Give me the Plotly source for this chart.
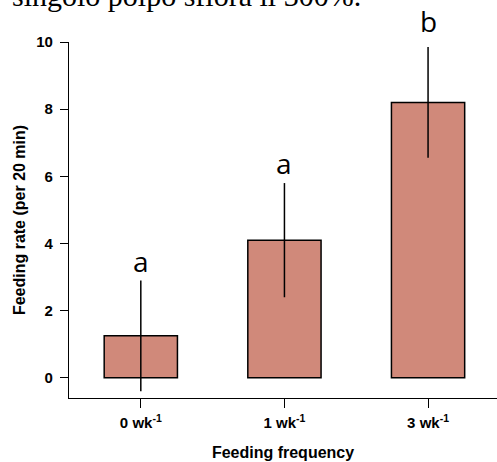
import plotly.graph_objects as go

categories = ["0 wk<sup>-1</sup>", "1 wk<sup>-1</sup>", "3 wk<sup>-1</sup>"]
feeding_rate = [1.25, 4.1, 8.2]
error_sd = [1.65, 1.7, 1.65]
sig_letters = ["a", "a", "b"]
letter_y = [2.86, 5.76, 10.0]
y_ticks = [0, 2, 4, 6, 8, 10]
caption = "singolo polpo sfiora il 300%."

Y_MIN, Y_MAX = -0.6, 10
x_pos = list(range(len(categories)))

fig = go.Figure()
fig.add_trace(go.Bar(
    x=x_pos, y=feeding_rate, width=0.51,
    marker=dict(color="#D0897A", line=dict(color="black", width=1.5)),
    error_y=dict(type="data", array=error_sd, visible=True, color="black", thickness=1.5, width=0),
))

for xi, yi, t in zip(x_pos, letter_y, sig_letters):
    fig.add_annotation(x=xi, y=(yi - Y_MIN) / (Y_MAX - Y_MIN), text=t, showarrow=False,
                       xref="x", yref="paper", yanchor="bottom",
                       font=dict(family="Open Sans, Lato, sans-serif", size=28, color="black"))

# cropped caption line of the source page at the very top
fig.add_annotation(
    x=(10 - 69) / 428, y=(398 - 14) / 356, xref="paper", yref="paper",
    xanchor="left", yanchor="bottom", showarrow=False, text=caption,
    font=dict(family="Liberation Serif, Times New Roman, serif", size=30, color="black"),
)

fig.update_layout(
    width=497, height=462,
    margin=dict(l=69, r=0, t=42, b=64, autoexpand=False),
    plot_bgcolor="white", paper_bgcolor="white",
    showlegend=False,
    font=dict(family="Liberation Sans, Arial, sans-serif", color="black"),
    xaxis=dict(
        tickmode="array", tickvals=x_pos, ticktext=categories,
        range=[-0.5, 2.48], showline=True, linecolor="black", linewidth=1.3,
        ticks="outside", ticklen=9, tickwidth=1.3, tickcolor="black",
        tickfont=dict(size=15, weight="bold"), showgrid=False, zeroline=False,
        automargin=False, ticklabelstandoff=2,
        title=dict(text="Feeding frequency", font=dict(size=16, weight="bold"), standoff=16),
    ),
    yaxis=dict(
        tickmode="array", tickvals=y_ticks,
        range=[Y_MIN, Y_MAX], showline=True, linecolor="black", linewidth=1.3,
        ticks="outside", ticklen=8, tickwidth=1.3, tickcolor="black",
        tickfont=dict(size=15, weight="bold"), showgrid=False, zeroline=False,
        automargin=False, ticklabelstandoff=4,
        title=dict(text="Feeding rate (per 20 min)", font=dict(size=16, weight="bold"), standoff=6),
    ),
)

fig.write_html("out.html", config={"displayModeBar": False},
               post_script="document.body.style.margin='0';document.body.style.overflow='hidden';")
